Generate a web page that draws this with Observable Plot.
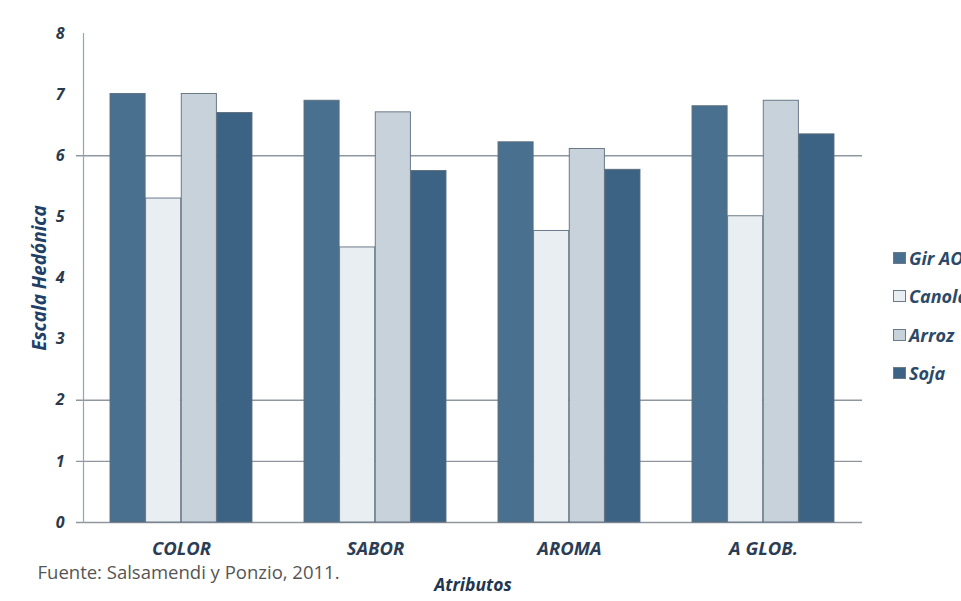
<!DOCTYPE html>
<html>
<head>
<meta charset="utf-8">
<script src="https://cdn.jsdelivr.net/npm/d3@7"></script>
<script src="https://cdn.jsdelivr.net/npm/@observablehq/plot@0.6"></script>
<style>
  html, body { margin: 0; padding: 0; background: #fff; }
  #wrap { position: relative; width: 961px; height: 601px; overflow: hidden; background: #fff; }
  #legend { position: absolute; left: 893px; top: 239px; font-family: "Open Sans", sans-serif; font-size: 18px; line-height: 26px; font-weight: bold; font-style: italic; color: #2c4a68; white-space: nowrap; }
  #legend .item { height: 38.3px; display: flex; align-items: center; }
  #legend .sw { width: 13px; height: 12px; margin-right: 3px; box-sizing: border-box; border: 1px solid #6a7a88; flex: none; }
</style>
</head>
<body>
<div id="wrap"></div>
<script>
const categories = ["COLOR", "SABOR", "AROMA", "A GLOB."];
const series = ["Gir AO", "Canola", "Arroz", "Soja"];
const girAO  = [7.01, 6.90, 6.22, 6.81];
const canola = [5.30, 4.50, 4.77, 5.01];
const arroz  = [7.01, 6.71, 6.11, 6.90];
const soja   = [6.70, 5.75, 5.77, 6.35];
const yTicks = [0, 1, 2, 3, 4, 5, 6, 7, 8];
const gridTicks = [0, 1, 2, 6];
const colors = ["#49718f", "#e9eef2", "#c7d2da", "#3c6384"];
const yLabel = "Escala Hedónica";
const xLabel = "Atributos";
const source = "Fuente: Salsamendi y Ponzio, 2011.";

const seriesValues = [girAO, canola, arroz, soja];
const data = categories.flatMap((c, i) =>
  series.map((s, j) => ({attr: c, serie: s, value: seriesValues[j][i]})));

const W = 961, H = 601;
const mL = 83, mR = 99, mT = 33, mB = 79;
const pInner = 0.267, pOuter = 0.137;
const step = (W - mL - mR) / (categories.length - pInner + 2 * pOuter);
const bw = step * (1 - pInner) / series.length;

const font = "'Open Sans', sans-serif";

const chart = Plot.plot({
  width: W, height: H,
  marginLeft: mL, marginRight: mR, marginTop: mT, marginBottom: mB,
  style: {background: "#fff", fontFamily: font},
  x: {domain: categories, paddingInner: pInner, paddingOuter: pOuter, axis: null},
  y: {domain: [0, 8], axis: null},
  color: {domain: series, range: colors},
  marks: [
    Plot.ruleY(gridTicks, {stroke: "#8e979f", strokeWidth: 1.3, insetLeft: -7}),
    ...series.map((s, j) => Plot.barY(data.filter(d => d.serie === s), {
      x: "attr", y: "value", fill: "serie",
      stroke: "#5d6e7d", strokeWidth: 0.9,
      insetLeft: j * bw, insetRight: (series.length - 1 - j) * bw
    })),
    Plot.frame({anchor: "left", stroke: "#9aa3ab", strokeWidth: 1.2}),
    Plot.axisY({ticks: yTicks, tickSize: 0, tickPadding: 19, label: null,
      fontSize: 16, fontWeight: "bold", fontStyle: "italic", fill: "#2b3a4a", tickFormat: d3.format("d")}),
    Plot.axisX({tickSize: 0, tickPadding: 19, label: null,
      fontSize: 18.5, fontWeight: "bold", fontStyle: "italic", fill: "#2b3d55"}),
    Plot.text([yLabel], {text: d => d, frameAnchor: "left", textAnchor: "middle", rotate: -90, dx: -44,
      fontSize: 19, fontWeight: "bold", fontStyle: "italic", fill: "#214068"}),
    Plot.text([xLabel], {text: d => d, frameAnchor: "bottom", dy: 68,
      fontSize: 17.5, fontWeight: "bold", fontStyle: "italic", fill: "#1f3650"}),
    Plot.text([source], {text: d => d, frameAnchor: "bottom-left", textAnchor: "start", dx: -46, dy: 56,
      fontSize: 18.5, fill: "#555"})
  ]
});

const wrap = document.getElementById("wrap");
wrap.appendChild(chart);

const legend = document.createElement("div");
legend.id = "legend";
series.forEach((s, j) => {
  const item = document.createElement("div");
  item.className = "item";
  const sw = document.createElement("span");
  sw.className = "sw";
  sw.style.background = colors[j];
  const label = document.createElement("span");
  label.textContent = s;
  item.appendChild(sw);
  item.appendChild(label);
  legend.appendChild(item);
});
wrap.appendChild(legend);
</script>
</body>
</html>
